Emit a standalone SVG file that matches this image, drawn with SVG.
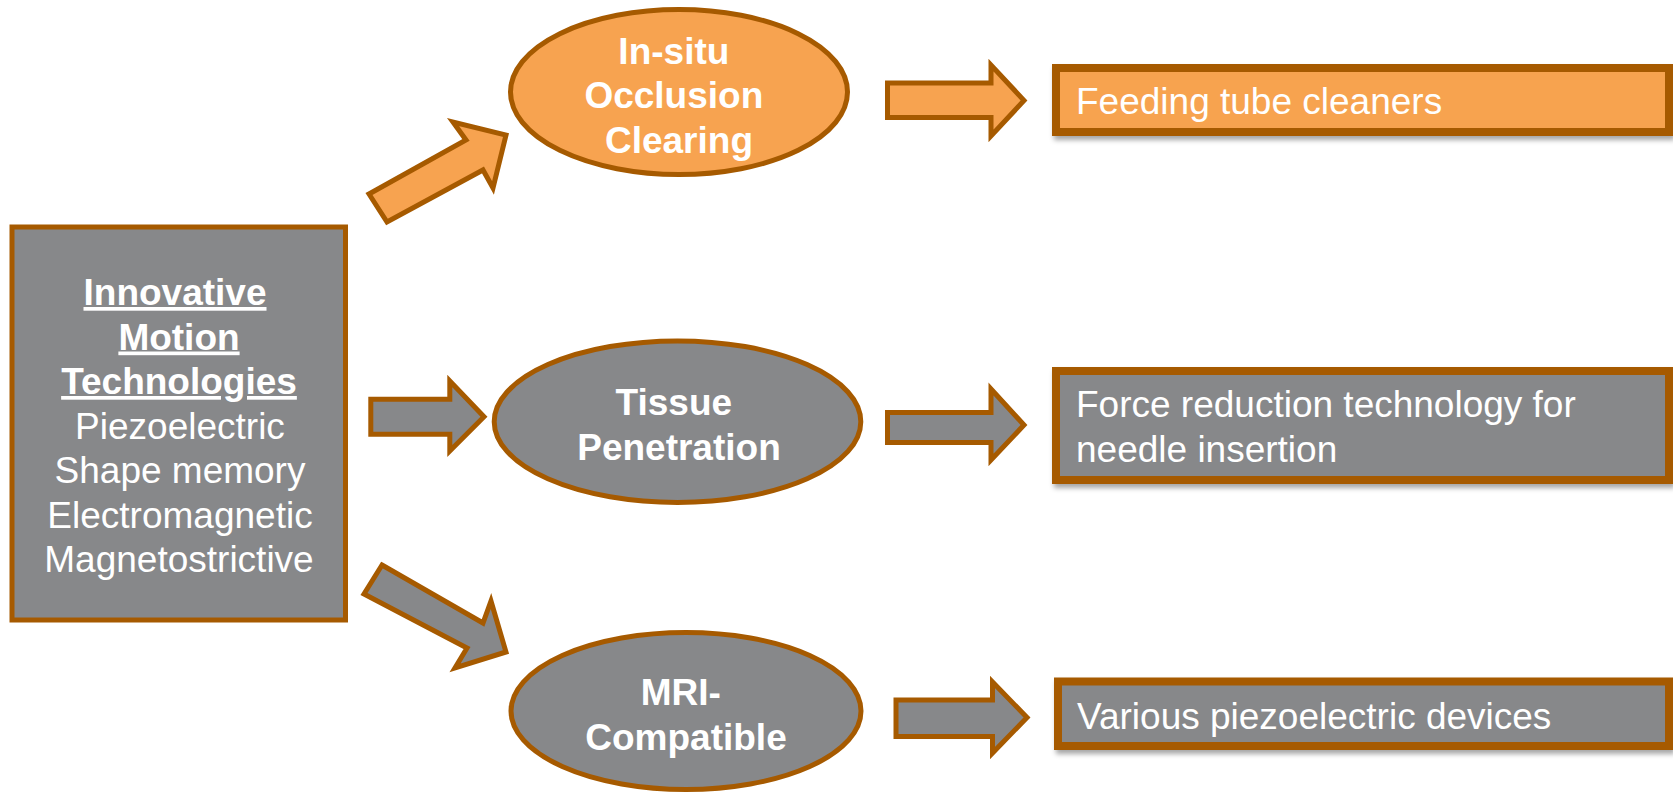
<svg xmlns="http://www.w3.org/2000/svg" width="1673" height="794" viewBox="0 0 1673 794">
<style>
.orange{fill:#F7A350;stroke:#A65A00;stroke-width:5}
.gray{fill:#87888A;stroke:#A65A00;stroke-width:5}
.box{stroke-width:8}
.arrow{stroke-width:5;stroke-linejoin:miter}
.t{font-family:"Liberation Sans",Arial,sans-serif;font-size:37px;fill:#FFFFFF}
.b{font-weight:bold}
.c{text-anchor:middle}
.u{text-decoration:underline}
</style>
<defs>
<filter id="sh" x="-5%" y="-20%" width="110%" height="150%">
<feDropShadow dx="2" dy="4" stdDeviation="2.5" flood-color="#000" flood-opacity="0.35"/>
</filter>
</defs>
<rect width="1673" height="794" fill="#FFFFFF"/>
<g id="connectors">
<polygon class="orange arrow" points="369,194 466,140 453,122 506,135 493,188 483,170 387,222"/>
<polygon class="gray arrow" points="370.8,399.2 449.8,399.2 449.8,381 484,416.7 449.8,451 449.8,434.2 370.8,434.2"/>
<polygon class="gray arrow" points="382,565 483,623 491,601 506,652 455,668 467,648 364,594"/>
<polygon class="orange arrow" points="887.5,83 991,83 991,65 1024,100.5 991,136 991,117.5 887.5,117.5"/>
<polygon class="gray arrow" points="887.5,412.5 991,412.5 991,389 1024,425 991,460 991,442.5 887.5,442.5"/>
<polygon class="gray arrow" points="896,700 992.5,700 992.5,682 1027,717.5 992.5,753 992.5,736.5 896,736.5"/>
</g>
<g id="node-motion">
<rect class="gray" x="12" y="227" width="333.5" height="393"/>
<text class="t b c u" x="175" y="305">Innovative</text>
<text class="t b c u" x="179" y="349.5">Motion</text>
<text class="t b c u" x="179" y="394">Technologies</text>
<text class="t c" x="180" y="438.5">Piezoelectric</text>
<text class="t c" x="180" y="483">Shape memory</text>
<text class="t c" x="180" y="527.5">Electromagnetic</text>
<text class="t c" x="179" y="572">Magnetostrictive</text>
</g>
<g id="node-occlusion">
<ellipse class="orange" cx="679" cy="92" rx="168.5" ry="82.5"/>
<text class="t b c">
<tspan x="679" y="63.5">In-situ</tspan>
<tspan x="679" y="108">Occlusion</tspan>
<tspan x="679" y="152.5">Clearing</tspan>
</text>
</g>
<g id="node-tissue">
<ellipse class="gray" cx="677.5" cy="421.7" rx="183.3" ry="80.8"/>
<text class="t b c">
<tspan x="679" y="415">Tissue</tspan>
<tspan x="679" y="459.5">Penetration</tspan>
</text>
</g>
<g id="node-mri">
<ellipse class="gray" cx="686" cy="711" rx="175" ry="78.5"/>
<text class="t b c">
<tspan x="686" y="705">MRI-</tspan>
<tspan x="686" y="750">Compatible</tspan>
</text>
</g>
<g id="node-feeding">
<rect class="orange box" x="1056" y="68" width="613" height="64" filter="url(#sh)"/>
<text class="t" x="1076" y="114">Feeding tube cleaners</text>
</g>
<g id="node-force">
<rect class="gray box" x="1056" y="371" width="613" height="109" filter="url(#sh)"/>
<text class="t">
<tspan x="1076" y="416.5">Force reduction technology for</tspan>
<tspan x="1076" y="461.5">needle insertion</tspan>
</text>
</g>
<g id="node-various">
<rect class="gray box" x="1058" y="681.5" width="611" height="64.5" filter="url(#sh)"/>
<text class="t" x="1077" y="728.5">Various piezoelectric devices</text>
</g>
</svg>
